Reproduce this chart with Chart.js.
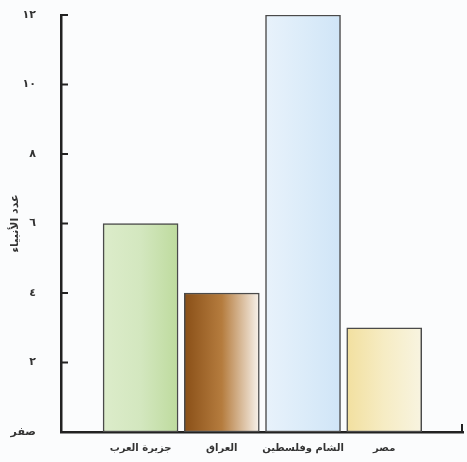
<!DOCTYPE html>
<html lang="ar">
<head>
<meta charset="utf-8">
<title>عدد الأنبياء</title>
<script src="https://cdn.jsdelivr.net/npm/chart.js@4/dist/chart.umd.min.js"></script>
<style>
  html, body { margin: 0; padding: 0; background: #fbfcfd; }
  #wrap { width: 467px; height: 462px; }
</style>
</head>
<body>
<div id="wrap"><canvas id="ProphetsChart"></canvas></div>
<script>
// data
const categories = ['جزيرة العرب', 'العراق', 'الشام وفلسطين', 'مصر'];
const prophets = [6, 4, 12, 3];
const yTickLabels = ['صفر', '٢', '٤', '٦', '٨', '١٠', '١٢'];

// left-to-right colour stops for each bar
const barStops = [
    ['#dcecca', '#d3e7bf', '#bedb9e'],
    ['#8a5018', '#b57c3e', '#f7f1ea'],
    ['#e8f2fb', '#dcecf9', '#d0e5f7'],
    ['#f2e0a0', '#f6ecc4', '#f8f4e0']
];

function barFill(ctx) {
    const stops = barStops[ctx.dataIndex] || barStops[0];
    const xs = ctx.chart.scales.x;
    if (!xs || ctx.dataIndex === undefined) return stops[1];
    const cx = xs.getPixelForValue(ctx.dataIndex + 1);
    if (!isFinite(cx)) return stops[1];
    const g = ctx.chart.ctx.createLinearGradient(cx - 37, 0, cx + 37, 0);
    g.addColorStop(0, stops[0]);
    g.addColorStop(0.5, stops[1]);
    g.addColorStop(1, stops[2]);
    return g;
}

// tick marks point into the plot, plus the small end mark on the x axis
const inwardTicks = {
    id: 'inwardTicks',
    afterDraw(chart) {
        const ctx = chart.ctx;
        const x = chart.scales.x, y = chart.scales.y;
        ctx.save();
        ctx.strokeStyle = '#222';
        ctx.lineWidth = 2;
        y.ticks.forEach(t => {
            if (t.value === 0) return;
            const py = y.getPixelForValue(t.value);
            ctx.beginPath();
            ctx.moveTo(x.left, py);
            ctx.lineTo(x.left + 7, py);
            ctx.stroke();
        });
        ctx.beginPath();
        ctx.moveTo(x.right - 1, y.bottom);
        ctx.lineTo(x.right - 1, y.bottom - 8);
        ctx.stroke();
        ctx.restore();
    }
};

const prophetsCtx = document.getElementById('ProphetsChart').getContext('2d');
const prophetsChart = new Chart(prophetsCtx, {
    type: 'bar',
    data: {
        datasets: [{
            label: 'عدد الأنبياء',
            data: prophets.map((v, i) => ({ x: i + 1, y: v })),
            backgroundColor: barFill,
            borderColor: '#4a4a4a',
            borderWidth: 1.5,
            borderSkipped: false,
            barThickness: 75
        }]
    },
    options: {
        responsive: true,
        maintainAspectRatio: false,
        animation: false,
        layout: {
            padding: { top: 15, right: 4, left: 7, bottom: 0 }
        },
        plugins: {
            legend: { display: false },
            tooltip: { enabled: false }
        },
        scales: {
            x: {
                type: 'linear',
                offset: false,
                min: 0.02,
                max: 4.97,
                afterBuildTicks: scale => {
                    scale.ticks = categories.map((c, i) => ({ value: i + 1 }));
                },
                afterFit: scale => { scale.height = 30; },
                grid: { display: false, offset: false },
                border: { color: '#222', width: 2.5 },
                ticks: {
                    autoSkip: false,
                    maxRotation: 0,
                    padding: 2,
                    color: '#333',
                    font: { family: 'DejaVu Sans', size: 10, weight: 'bold' },
                    callback: v => categories[v - 1]
                }
            },
            y: {
                min: 0,
                max: 12,
                afterFit: scale => {
                    scale.width = 54;
                    scale.paddingTop = 0;
                    scale.paddingBottom = 0;
                },
                grid: { display: false },
                border: { color: '#222', width: 2.5 },
                ticks: {
                    stepSize: 2,
                    padding: 17,
                    color: '#333',
                    font: { family: 'DejaVu Sans', size: 11, weight: 'bold' },
                    callback: (v, i) => yTickLabels[i]
                },
                title: {
                    display: true,
                    text: 'عدد الأنبياء',
                    color: '#333',
                    padding: { top: 2, bottom: 2 },
                    font: { family: 'DejaVu Sans', size: 11, weight: 'bold' }
                }
            }
        }
    },
    plugins: [inwardTicks]
});
</script>
</body>
</html>
